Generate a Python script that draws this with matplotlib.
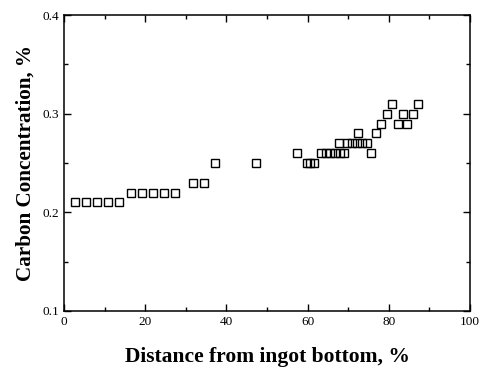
import matplotlib
matplotlib.use('Agg')
import matplotlib.pyplot as plt
from matplotlib.ticker import MultipleLocator

# distance from ingot bottom (%) and carbon concentration (%)
distance = [2.7, 5.4, 8.2, 10.9, 13.6,
            16.4, 19.1, 21.8, 24.6, 27.3,
            31.7, 34.5,
            37.2, 47.3,
            57.4,
            59.8, 60.7, 61.6,
            63.4, 64.5, 65.6, 66.7, 67.9, 69.0,
            67.8, 69.8, 71.0, 72.2, 73.4, 74.6,
            72.3, 76.9,
            75.6,
            78.2, 82.2, 84.6,
            79.6, 83.4, 86.0,
            80.9, 87.3]
carbon = [0.21, 0.21, 0.21, 0.21, 0.21,
          0.22, 0.22, 0.22, 0.22, 0.22,
          0.23, 0.23,
          0.25, 0.25,
          0.26,
          0.25, 0.25, 0.25,
          0.26, 0.26, 0.26, 0.26, 0.26, 0.26,
          0.27, 0.27, 0.27, 0.27, 0.27, 0.27,
          0.28, 0.28,
          0.26,
          0.29, 0.29, 0.29,
          0.30, 0.30, 0.30,
          0.31, 0.31]

plt.rcParams['font.family'] = ['Liberation Serif', 'DejaVu Serif']

fig = plt.figure(figsize=(4.82, 3.67), dpi=100)
ax = fig.add_axes([0.133, 0.153, 0.842, 0.806])

ax.plot(distance, carbon, linestyle='none', marker='s', markersize=5.8,
        markerfacecolor='none', markeredgecolor='black', markeredgewidth=1.0)

ax.set_xlim(0, 100)
ax.set_ylim(0.1, 0.4)
ax.xaxis.set_major_locator(MultipleLocator(20))
ax.xaxis.set_minor_locator(MultipleLocator(10))
ax.yaxis.set_major_locator(MultipleLocator(0.1))
ax.yaxis.set_minor_locator(MultipleLocator(0.05))
ax.tick_params(which='both', direction='in', top=True, right=True, labelsize=9.5)
ax.tick_params(which='major', length=5, width=1)
ax.tick_params(which='minor', length=3, width=1)
for sp in ax.spines.values():
    sp.set_linewidth(1.1)

ax.set_xlabel('Distance from ingot bottom, %', fontsize=15.5, fontweight='bold', labelpad=14)
ax.set_ylabel('Carbon Concentration, %', fontsize=15.2, fontweight='bold', labelpad=5)

fig.savefig('out.png', dpi=100)
